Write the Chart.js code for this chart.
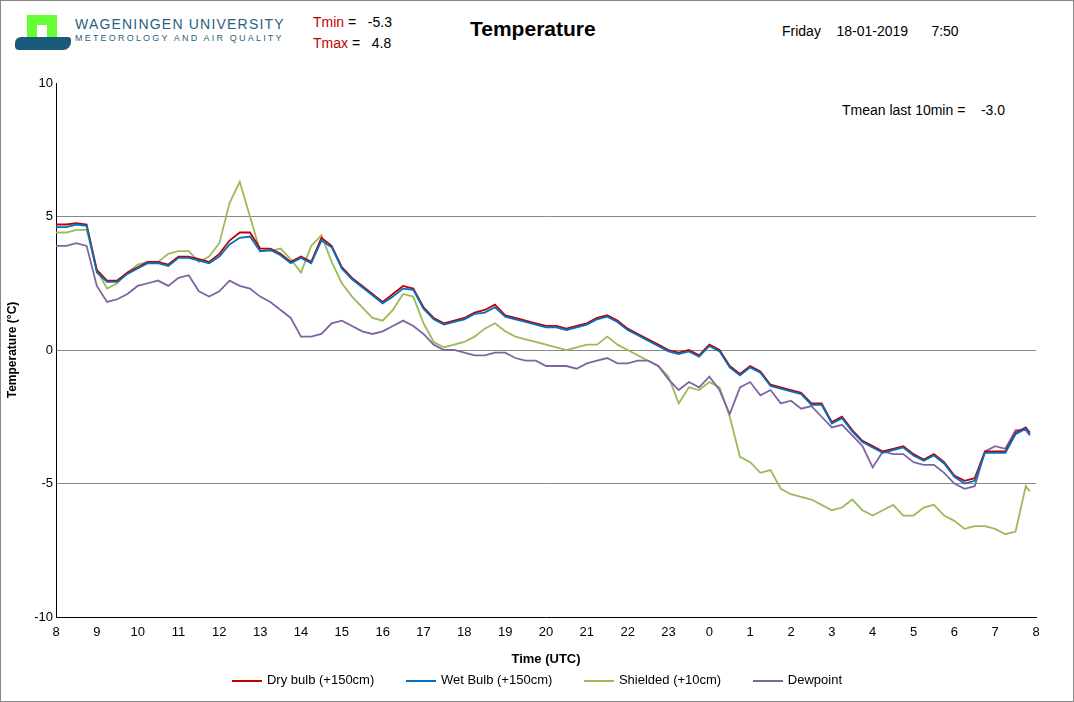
<!DOCTYPE html>
<html><head><meta charset="utf-8">
<script src="https://cdn.jsdelivr.net/npm/chart.js@4/dist/chart.umd.min.js"></script>
<style>
body{margin:0;background:#fff;font-family:"Liberation Sans",Arial,sans-serif}
#wrap{position:relative;width:1072px;height:700px;border:1px solid #888}
.t{position:absolute;white-space:nowrap}
.red{color:#c00000}
#legend{position:absolute;top:671px;left:0;width:1072px;text-align:center;font-size:13px}
#legend span{display:inline-block;margin:0 14px}
#legend i{display:inline-block;width:30px;height:2px;vertical-align:middle;margin-right:5px}
</style></head><body>
<div id="wrap">
  <div class="t" style="left:26px;top:14px;width:30px;height:30px;background:#66ff33"></div>
  <div class="t" style="left:36px;top:24px;width:10px;height:20px;background:#fff"></div>
  <div class="t" style="left:14px;top:36px;width:56px;height:13px;background:#1a5a7a;border-radius:6px 3px 8px 4px"></div>
  <div class="t" style="left:74px;top:15px;font-size:14px;letter-spacing:1.2px;color:#2a5f80">WAGENINGEN UNIVERSITY</div>
  <div class="t" style="left:74px;top:32px;font-size:9px;letter-spacing:2.2px;color:#2a5f80">METEOROLOGY AND AIR QUALITY</div>
  <div class="t" style="left:312px;top:13px;font-size:14px"><span class="red">Tmin</span> = &nbsp; -5.3</div>
  <div class="t" style="left:312px;top:34px;font-size:14px"><span class="red">Tmax</span> = &nbsp; 4.8</div>
  <div class="t" style="left:469px;top:16px;font-size:21px;font-weight:bold">Temperature</div>
  <div class="t" style="left:781px;top:22px;font-size:14px">Friday &nbsp;&nbsp; 18-01-2019 &nbsp;&nbsp;&nbsp;&nbsp; 7:50</div>
  <div class="t" style="left:841px;top:101px;font-size:14px">Tmean last 10min = &nbsp;&nbsp; -3.0</div>
  <canvas id="c" width="1072" height="700" style="position:absolute;left:0;top:0"></canvas>
  <div id="legend">
    <span><i style="background:#c00000"></i>Dry bulb (+150cm)</span>
    <span><i style="background:#0070c0"></i>Wet Bulb (+150cm)</span>
    <span><i style="background:#9bbb59"></i>Shielded (+10cm)</span>
    <span><i style="background:#8064a2"></i>Dewpoint</span>
  </div>
</div>
<script>
// hours since 08:00 UTC, every 15 minutes
const hours = [];
for (let i = 0; i <= 95; i++) hours.push(i / 4);
hours.push(23.85);

const dryBulb = [4.7,4.7,4.75,4.7,3.0,2.6,2.6,2.9,3.1,3.3,3.3,3.2,3.5,3.5,3.4,3.3,3.6,4.1,4.4,4.4,3.8,3.8,3.6,3.3,3.5,3.3,4.2,3.9,3.1,2.7,2.4,2.1,1.8,2.1,2.4,2.3,1.6,1.2,1.0,1.1,1.2,1.4,1.5,1.7,1.3,1.2,1.1,1.0,0.9,0.9,0.8,0.9,1.0,1.2,1.3,1.1,0.8,0.6,0.4,0.2,0.0,-0.1,0.0,-0.2,0.2,0.0,-0.6,-0.9,-0.6,-0.8,-1.3,-1.4,-1.5,-1.6,-2.0,-2.0,-2.7,-2.5,-3.0,-3.4,-3.6,-3.8,-3.7,-3.6,-3.9,-4.1,-3.9,-4.2,-4.7,-4.9,-4.8,-3.8,-3.8,-3.8,-3.1,-2.9,-3.1];
const wetBulb = [4.6,4.6,4.7,4.65,2.9,2.55,2.55,2.85,3.05,3.25,3.25,3.15,3.45,3.45,3.35,3.25,3.5,3.95,4.2,4.25,3.7,3.75,3.55,3.25,3.45,3.25,4.1,3.85,3.05,2.65,2.35,2.05,1.75,2.0,2.3,2.25,1.55,1.15,0.95,1.05,1.15,1.35,1.4,1.6,1.25,1.15,1.05,0.95,0.85,0.85,0.75,0.85,0.95,1.15,1.25,1.05,0.75,0.55,0.35,0.15,-0.05,-0.15,-0.05,-0.25,0.15,-0.05,-0.65,-0.95,-0.65,-0.85,-1.35,-1.45,-1.55,-1.65,-2.05,-2.05,-2.75,-2.55,-3.05,-3.45,-3.65,-3.85,-3.75,-3.65,-3.95,-4.15,-3.95,-4.25,-4.75,-5.0,-4.9,-3.85,-3.85,-3.85,-3.15,-2.95,-3.15];
const shielded = [4.4,4.4,4.5,4.5,3.0,2.3,2.5,2.9,3.2,3.3,3.3,3.6,3.7,3.7,3.3,3.5,4.0,5.5,6.3,5.0,3.7,3.7,3.8,3.4,2.9,3.9,4.3,3.3,2.5,2.0,1.6,1.2,1.1,1.5,2.1,2.0,1.0,0.3,0.1,0.2,0.3,0.5,0.8,1.0,0.7,0.5,0.4,0.3,0.2,0.1,0.0,0.1,0.2,0.2,0.5,0.2,0.0,-0.2,-0.4,-0.6,-1.0,-2.0,-1.4,-1.5,-1.2,-1.4,-2.5,-4.0,-4.2,-4.6,-4.5,-5.2,-5.4,-5.5,-5.6,-5.8,-6.0,-5.9,-5.6,-6.0,-6.2,-6.0,-5.8,-6.2,-6.2,-5.9,-5.8,-6.2,-6.4,-6.7,-6.6,-6.6,-6.7,-6.9,-6.8,-5.1,-5.3];
const dewpoint = [3.9,3.9,4.0,3.9,2.4,1.8,1.9,2.1,2.4,2.5,2.6,2.4,2.7,2.8,2.2,2.0,2.2,2.6,2.4,2.3,2.0,1.8,1.5,1.2,0.5,0.5,0.6,1.0,1.1,0.9,0.7,0.6,0.7,0.9,1.1,0.9,0.6,0.2,0.0,0.0,-0.1,-0.2,-0.2,-0.1,-0.1,-0.3,-0.4,-0.4,-0.6,-0.6,-0.6,-0.7,-0.5,-0.4,-0.3,-0.5,-0.5,-0.4,-0.4,-0.6,-1.1,-1.5,-1.2,-1.4,-1.0,-1.5,-2.4,-1.4,-1.2,-1.7,-1.5,-2.0,-1.9,-2.2,-2.1,-2.5,-2.9,-2.8,-3.2,-3.6,-4.4,-3.8,-3.9,-3.9,-4.2,-4.3,-4.3,-4.6,-5.0,-5.2,-5.1,-3.8,-3.6,-3.7,-3.0,-3.0,-3.2];

const pts = arr => arr.map((v, i) => ({x: hours[i], y: v}));
const ds = (data, color) => ({data: pts(data), borderColor: color, borderWidth: 1.8, pointRadius: 0, tension: 0});

new Chart(document.getElementById('c'), {
  type: 'line',
  // first dataset is drawn on top
  data: {datasets: [ds(wetBulb,'#0070c0'), ds(dryBulb,'#c00000'), ds(dewpoint,'#8064a2'), ds(shielded,'#9bbb59')]},
  options: {
    responsive: false, animation: false,
    layout: {padding: {top: 82, right: 37, bottom: 30, left: 0}},
    plugins: {legend: {display: false}, tooltip: {enabled: false}},
    scales: {
      x: {type: 'linear', min: 0, max: 24,
        afterFit: s => { s.height = 54; },
        ticks: {stepSize: 1, color: '#000', font: {size: 13}, callback: v => (8 + v) % 24},
        grid: {display: false, drawTicks: true, tickLength: 5},
        border: {color: '#000'},
        title: {display: true, text: 'Time (UTC)', color: '#000', font: {size: 13, weight: 'bold'}}},
      y: {min: -10, max: 10,
        afterFit: s => { s.width = 55; },
        ticks: {stepSize: 5, color: '#000', font: {size: 13}},
        grid: {color: c => (c.tick.value === 10 || c.tick.value === -10) ? 'rgba(0,0,0,0)' : '#888', drawTicks: false},
        border: {color: '#000'},
        title: {display: true, text: 'Temperature (°C)', color: '#000', font: {size: 12, weight: 'bold'}}}
    }
  }
});
</script>
</body></html>
